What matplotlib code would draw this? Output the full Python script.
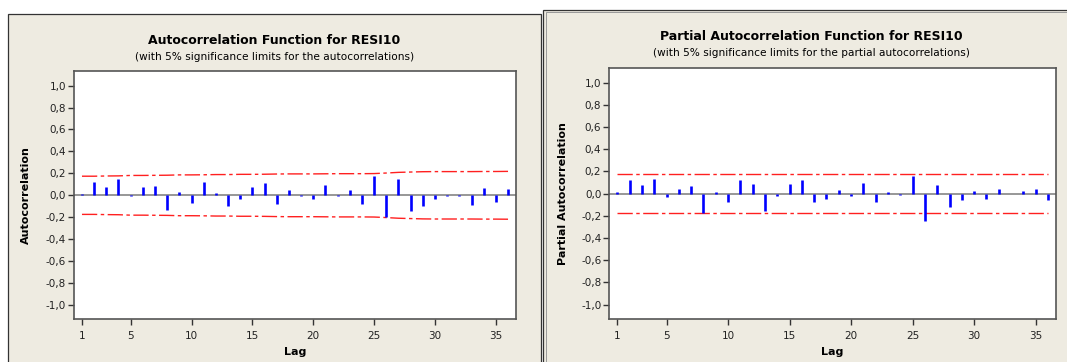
import matplotlib.pyplot as plt
from matplotlib.patches import Rectangle

lags = list(range(1, 37))

acf = [0.01, 0.12, 0.075, 0.15, -0.01, 0.075, 0.085, -0.13, 0.03, -0.07,
       0.12, 0.025, -0.10, -0.03, 0.075, 0.11, -0.08, 0.05, -0.01, -0.03,
       0.09, -0.005, 0.05, -0.08, 0.18, -0.20, 0.15, -0.14, -0.10, -0.03,
       -0.01, -0.01, -0.09, 0.065, -0.06, 0.06]
acf_limit = [0.174, 0.174, 0.176, 0.177, 0.181, 0.181, 0.182, 0.183, 0.186, 0.186,
             0.187, 0.189, 0.189, 0.191, 0.191, 0.192, 0.194, 0.195, 0.195, 0.195,
             0.196, 0.197, 0.197, 0.197, 0.198, 0.203, 0.209, 0.212, 0.215, 0.216,
             0.216, 0.216, 0.216, 0.217, 0.217, 0.218]

pacf = [0.015, 0.12, 0.077, 0.135, -0.03, 0.043, 0.068, -0.175, 0.015, -0.074,
        0.126, 0.086, -0.16, -0.022, 0.086, 0.12, -0.074, -0.05, 0.034, -0.02,
        0.10, -0.074, 0.015, -0.015, 0.163, -0.25, 0.077, -0.117, -0.058, 0.025,
        -0.05, 0.043, -0.005, 0.025, 0.043, -0.058]
pacf_limit = [0.174] * 36

xticks = [1, 5, 10, 15, 20, 25, 30, 35]
yticks = [-1.0, -0.8, -0.6, -0.4, -0.2, 0.0, 0.2, 0.4, 0.6, 0.8, 1.0]
ytick_labels = ['-1,0', '-0,8', '-0,6', '-0,4', '-0,2', '0,0', '0,2', '0,4', '0,6', '0,8', '1,0']

W, H = 1067, 362
bg = '#eeebe1'
plt.rcParams['font.family'] = ['DejaVu Sans']

fig = plt.figure(figsize=(W / 100, H / 100), dpi=100)
fig.patch.set_facecolor('white')

# panels (pixel coords -> figure fraction)
def px_rect(x0, y0, x1, y1, **kw):
    r = Rectangle((x0 / W, 1 - y1 / H), (x1 - x0) / W, (y1 - y0) / H,
                  transform=fig.transFigure, zorder=-10, **kw)
    fig.add_artist(r)

px_rect(8, 14, 541, 370, facecolor=bg, edgecolor='#333333', lw=0.9)
px_rect(543, 10, 1075, 370, facecolor=bg, edgecolor='#333333', lw=0.9)
px_rect(545.5, 12, 1075, 370, facecolor='none', edgecolor='#999999', lw=0.7)


def make_ax(box, lags, vals, lim_up, lim_lo, title, sub, ylabel, ylab_x, title_x, title_y):
    x0, y0, x1, y1 = box
    ax = fig.add_axes([x0 / W, 1 - y1 / H, (x1 - x0) / W, (y1 - y0) / H])
    ax.set_facecolor('white')
    ax.axhline(0, color='#7a7a7a', lw=1.1, zorder=1)
    ax.plot(lags, lim_up, color='#ff2020', lw=1.0, ls=(0, (11, 2.5, 2.5, 2.5)), zorder=2)
    ax.plot(lags, lim_lo, color='#ff2020', lw=1.0, ls=(0, (11, 2.5, 2.5, 2.5)), zorder=2)
    ax.vlines(lags, 0, vals, color='#0000ff', lw=1.9, zorder=3)
    ax.set_xlim(0.32, 36.68)
    ax.set_ylim(-1.13, 1.13)
    ax.set_xticks(xticks)
    ax.set_yticks(yticks)
    ax.set_yticklabels(ytick_labels)
    ax.tick_params(direction='out', length=4, width=1, colors='#333333',
                   labelsize=7.5, labelcolor='#222222', pad=1.5)
    ax.tick_params(axis='x', pad=4.5)
    for s in ax.spines.values():
        s.set_color('#555555')
        s.set_linewidth(1.2)
    ax.set_xlabel('Lag', fontsize=8, fontweight='bold', labelpad=4.5)
    ax.set_ylabel(ylabel, fontsize=8, fontweight='bold')
    ax.yaxis.set_label_coords(ylab_x, 0.5)
    fig.text(title_x / W, 1 - title_y / H, title, ha='center', va='center',
             fontsize=9, fontweight='bold')
    fig.text(title_x / W, 1 - (title_y + 16) / H, sub, ha='center', va='center',
             fontsize=7.6)
    return ax


make_ax((73.7, 71.3, 516.3, 319.3), lags, acf, acf_limit, [-v for v in acf_limit],
        'Autocorrelation Function for RESI10',
        '(with 5% significance limits for the autocorrelations)',
        'Autocorrelation', -0.096, 274.5, 41)
make_ax((609, 68.3, 1056.3, 319), lags, pacf, pacf_limit, [-v for v in pacf_limit],
        'Partial Autocorrelation Function for RESI10',
        '(with 5% significance limits for the partial autocorrelations)',
        'Partial Autocorrelation', -0.092, 811, 37)

fig.savefig('out.png', dpi=100)
